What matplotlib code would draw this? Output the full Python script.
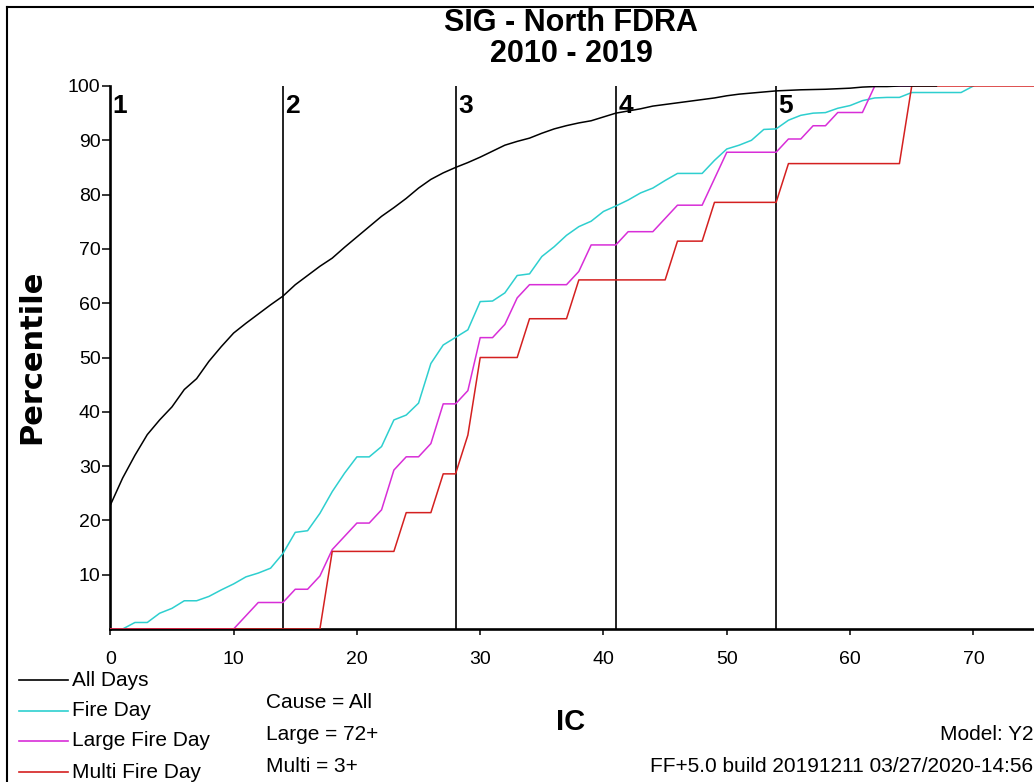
import numpy as np
import matplotlib
matplotlib.use("Agg")
import matplotlib.pyplot as plt
from matplotlib.lines import Line2D

# cumulative percentile by IC value (index = IC)
all_days = [22.8, 27.8, 32.0, 35.8, 38.5, 40.9, 44.1, 46.1, 49.3, 52.0,
            54.5, 56.3, 58.0, 59.7, 61.3, 63.4, 65.1, 66.8, 68.3, 70.3,
            72.2, 74.1, 76.0, 77.6, 79.3, 81.2, 82.8, 84.0, 85.0, 85.9,
            86.9, 88.0, 89.1, 89.8, 90.4, 91.3, 92.1, 92.7, 93.2, 93.6,
            94.3, 95.0, 95.4, 95.8, 96.3, 96.6, 96.9, 97.2, 97.5, 97.8,
            98.2, 98.5, 98.7, 98.9, 99.1, 99.2, 99.3, 99.35, 99.4, 99.5,
            99.6, 99.8, 99.9, 99.9, 100, 100, 100, 100]
fire_day = [0, 0, 1.2, 1.2, 2.9, 3.8, 5.2, 5.2, 6.0, 7.2,
            8.3, 9.6, 10.3, 11.2, 13.9, 17.8, 18.1, 21.3, 25.3, 28.7,
            31.7, 31.7, 33.6, 38.5, 39.4, 41.6, 48.9, 52.3, 53.7, 55.1,
            60.3, 60.4, 61.9, 65.1, 65.4, 68.6, 70.4, 72.5, 74.1, 75.1,
            76.9, 77.9, 79.0, 80.3, 81.2, 82.6, 83.9, 83.9, 83.9, 86.3,
            88.4, 89.1, 90.0, 92.0, 92.1, 93.7, 94.6, 95.0, 95.1, 95.9,
            96.4, 97.3, 97.8, 97.9, 97.9, 98.8, 98.8, 98.8, 98.8, 98.8,
            100]
large_fire_day = [0, 0, 0, 0, 0, 0, 0, 0, 0, 0,
                  0, 2.44, 4.88, 4.88, 4.88, 7.32, 7.32, 9.76, 14.63, 17.07,
                  19.51, 19.51, 21.95, 29.27, 31.71, 31.71, 34.15, 41.46, 41.46, 43.90,
                  53.66, 53.66, 56.10, 60.98, 63.41, 63.41, 63.41, 63.41, 65.85, 70.73,
                  70.73, 70.73, 73.17, 73.17, 73.17, 75.61, 78.05, 78.05, 78.05, 82.93,
                  87.80, 87.80, 87.80, 87.80, 87.80, 90.24, 90.24, 92.68, 92.68, 95.12,
                  95.12, 95.12, 100, 100, 100, 100]
multi_fire_day = [0] * 18 + [14.29] * 6 + [21.43] * 3 + [28.57] * 2 + [35.71] \
    + [50.0] * 4 + [57.14] * 4 + [64.29] * 8 + [71.43] * 3 + [78.57] * 6 \
    + [85.71] * 10 + [100.0] * 16

series_names = ["All Days", "Fire Day", "Large Fire Day", "Multi Fire Day"]
series_colors = ["black", "#2ECFCF", "#D82ED8", "#D42020"]

class_breaks = [0, 14, 28, 41, 54]
class_labels = ["1", "2", "3", "4", "5"]

W, H = 1034, 782
plt.rcParams["font.family"] = ["Liberation Sans", "DejaVu Sans"]


def fx(px):
    return px / W


def fy(py):
    return 1 - py / H


fig = plt.figure(figsize=(W / 100, H / 100), dpi=100)
ax = fig.add_axes([fx(110.3), fy(629), 986.4 / W, 543 / H])
ax.set_xlim(0, 80)
ax.set_ylim(0, 100)

data = [all_days, fire_day, large_fire_day, multi_fire_day]
zorders = [6, 3, 4, 5]
for vals, color, z in zip(data, series_colors, zorders):
    ax.plot(np.arange(len(vals)), vals, color=color, lw=1.1, zorder=z)

for xb, lab in zip(class_breaks, class_labels):
    ax.axvline(xb, color="#111111", lw=1.3, zorder=2)
    ax.text(xb + 0.2, 98.6, lab, fontsize=19, fontweight="bold",
            ha="left", va="top", zorder=7)

for s in ["top", "right"]:
    ax.spines[s].set_visible(False)
for s in ["left", "bottom"]:
    ax.spines[s].set_linewidth(1.9)

ax.set_xticks(range(0, 71, 10))
ax.set_yticks(range(10, 101, 10))
ax.tick_params(axis="x", length=4.5, width=1.1, pad=11, labelsize=14)
ax.tick_params(axis="y", length=6, width=1.1, pad=1, labelsize=14)

# titles and axis names
fig.text(fx(571), fy(23), "SIG - North FDRA", fontsize=22, fontweight="bold",
         ha="center", va="center")
fig.text(fx(571), fy(54), "2010 - 2019", fontsize=22, fontweight="bold",
         ha="center", va="center")
fig.text(fx(32), fy(357), "Percentile", fontsize=22, fontweight="bold",
         family="DejaVu Sans", rotation=90, ha="center", va="center")
fig.text(fx(571), fy(722), "IC", fontsize=21, fontweight="bold",
         ha="center", va="center")

# legend
legend_rows = [680, 711, 741, 772]
for name, color, row in zip(series_names, series_colors, legend_rows):
    fig.add_artist(Line2D([fx(19), fx(68)], [fy(row), fy(row)], color=color, lw=1.2))
    fig.text(fx(72), fy(row), name, fontsize=15, ha="left", va="center")

fig.text(fx(266), fy(702), "Cause = All", fontsize=15, ha="left", va="center")
fig.text(fx(266), fy(735), "Large = 72+", fontsize=15, ha="left", va="center")
fig.text(fx(266), fy(766), "Multi = 3+", fontsize=15, ha="left", va="center")
fig.text(fx(1033), fy(735), "Model: Y2", fontsize=15, ha="right", va="center")
fig.text(fx(1033), fy(766), "FF+5.0 build 20191211 03/27/2020-14:56", fontsize=15,
         ha="right", va="center")

# outer frame
fig.add_artist(Line2D([fx(7), fx(7)], [fy(7), 0], color="black", lw=1.5))
fig.add_artist(Line2D([fx(7), 1], [fy(7), fy(7)], color="black", lw=1.5))

fig.savefig("out.png", dpi=100)
